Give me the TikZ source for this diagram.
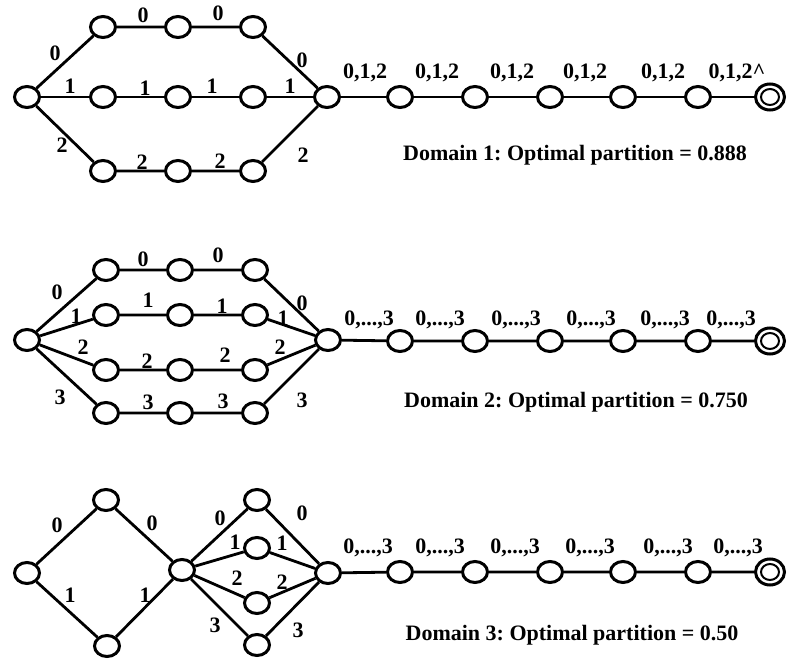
\documentclass[tikz,border=0pt]{standalone}
\usepackage{fontspec}
\setmainfont{Liberation Serif}
\usetikzlibrary{shapes.geometric}
\tikzset{
  st/.style={ellipse,draw,line width=3pt,minimum width=25pt,minimum height=21pt,inner sep=0pt},
  fin/.style={st,minimum width=29pt,minimum height=26pt},
  ed/.style={line width=2.8pt},
  lb/.style={font=\fontsize{22}{24}\selectfont\bfseries,inner sep=0pt},
  captxt/.style={font=\fontsize{22}{26}\selectfont\bfseries\frenchspacing,inner sep=0pt}
}
\begin{document}
\begin{tikzpicture}[x=1pt,y=-1pt]
\useasboundingbox (0,0) rectangle (788,660);

% ---------------- Domain 1 ----------------
\node[st] (aS) at (27,97) {};
\foreach \x [count=\i] in {103,178,253}{
  \node[st] (aT\i) at (\x,27) {};
  \node[st] (aM\i) at (\x,97) {};
  \node[st] (aB\i) at (\x,171) {};
}
\node[st] (aJ) at (327,97) {};
\foreach \x [count=\i] in {400,475,550,623,698}
  \node[st] (aC\i) at (\x,97) {};
\node[fin] (aF) at (770,97) {};
\draw[line width=2pt] (aF.center) ellipse (9 and 8);

\draw[ed] (aS) -- (aT1) -- (aT2) -- (aT3) -- (aJ);
\draw[ed] (aS) -- (aM1) -- (aM2) -- (aM3) -- (aJ);
\draw[ed] (aS) -- (aB1) -- (aB2) -- (aB3) -- (aJ);
\draw[ed] (aJ) -- (aC1) -- (aC2) -- (aC3) -- (aC4) -- (aC5) -- (aF);

\node[lb] (la1) at (55,53) {0};
\node[lb] (la2) at (143,15) {0};
\node[lb] (la3) at (218,13) {0};
\node[lb] (la4) at (302,60) {0};
\node[lb] (la5) at (70,86) {1};
\node[lb] (la6) at (145,88) {1};
\node[lb] (la7) at (212,86) {1};
\node[lb] (la8) at (290,86) {1};
\node[lb] (la9) at (62,145) {2};
\node[lb] (la10) at (142,162) {2};
\node[lb] (la11) at (220,161) {2};
\node[lb] (la12) at (303,155) {2};
\foreach \x [count=\i] in {365,437,512,585,663}
  \node[lb] (lac\i) at (\x,73) {0,1,2};
\node[lb] (lac6) at (737,73) {0,1,2\textasciicircum};
\node[captxt] (capA) at (575,155) {Domain 1: Optimal partition = 0.888};

% ---------------- Domain 2 ----------------
\node[st] (bS) at (27,340) {};
\foreach \x [count=\i] in {106,180,255}{
  \node[st] (bR\i) at (\x,270) {};
  \node[st] (bQ\i) at (\x,315) {};
  \node[st] (bP\i) at (\x,370) {};
  \node[st] (bO\i) at (\x,413) {};
}
\node[st] (bJ) at (328,340) {};
\foreach \x [count=\i] in {400,475,550,623,698}
  \node[st] (bC\i) at (\x,341) {};
\node[fin] (bF) at (770,341) {};
\draw[line width=2pt] (bF.center) ellipse (9 and 8);

\draw[ed] (bS) -- (bR1) -- (bR2) -- (bR3) -- (bJ);
\draw[ed] (bS) -- (bQ1) -- (bQ2) -- (bQ3) -- (bJ);
\draw[ed] (bS) -- (bP1) -- (bP2) -- (bP3) -- (bJ);
\draw[ed] (bS) -- (bO1) -- (bO2) -- (bO3) -- (bJ);
\draw[ed] (bJ) -- (bC1) -- (bC2) -- (bC3) -- (bC4) -- (bC5) -- (bF);

\node[lb] (lb1) at (57,292) {0};
\node[lb] (lb2) at (143,259) {0};
\node[lb] (lb3) at (218,255) {0};
\node[lb] (lb4) at (302,303) {0};
\node[lb] (lb5) at (76,316) {1};
\node[lb] (lb6) at (148,300) {1};
\node[lb] (lb7) at (222,306) {1};
\node[lb] (lb8) at (283,318) {1};
\node[lb] (lb9) at (83,347) {2};
\node[lb] (lb10) at (147,361) {2};
\node[lb] (lb11) at (225,355) {2};
\node[lb] (lb12) at (280,347) {2};
\node[lb] (lb13) at (60,397) {3};
\node[lb] (lb14) at (148,402) {3};
\node[lb] (lb15) at (223,401) {3};
\node[lb] (lb16) at (302,400) {3};
\foreach \x [count=\i] in {369,440,516,591,665,731}
  \node[lb] (lbc\i) at (\x,320) {0,...,3};
\node[captxt] (capB) at (576,402) {Domain 2: Optimal partition = 0.750};

% ---------------- Domain 3 ----------------
\node[st] (cS) at (27,573) {};
\node[st] (cT) at (106,500) {};
\node[st] (cB) at (107,646) {};
\node[st] (cK) at (182,570) {};
\node[st] (cR0) at (257,500) {};
\node[st] (cR1) at (257,548) {};
\node[st] (cR2) at (257,603) {};
\node[st] (cR3) at (257,645) {};
\node[st] (cJ) at (328,573) {};
\foreach \x [count=\i] in {400,475,550,623,698}
  \node[st] (cC\i) at (\x,572) {};
\node[fin] (cF) at (770,572) {};
\draw[line width=2pt] (cF.center) ellipse (9 and 8);

\draw[ed] (cS) -- (cT) -- (cK);
\draw[ed] (cS) -- (cB) -- (cK);
\draw[ed] (cK) -- (cR0) -- (cJ);
\draw[ed] (cK) -- (cR1) -- (cJ);
\draw[ed] (cK) -- (cR2) -- (cJ);
\draw[ed] (cK) -- (cR3) -- (cJ);
\draw[ed] (cJ) -- (cC1) -- (cC2) -- (cC3) -- (cC4) -- (cC5) -- (cF);

\node[lb] (lc1) at (57,525) {0};
\node[lb] (lc2) at (152,523) {0};
\node[lb] (lc3) at (70,595) {1};
\node[lb] (lc4) at (145,595) {1};
\node[lb] (lc5) at (220,518) {0};
\node[lb] (lc6) at (302,513) {0};
\node[lb] (lc7) at (235,542) {1};
\node[lb] (lc8) at (282,543) {1};
\node[lb] (lc9) at (237,578) {2};
\node[lb] (lc10) at (282,582) {2};
\node[lb] (lc11) at (215,625) {3};
\node[lb] (lc12) at (298,630) {3};
\foreach \x [count=\i] in {368,440,515,590,668,738}
  \node[lb] (lcc\i) at (\x,548) {0,...,3};
\node[captxt] (capC) at (572,635) {Domain 3: Optimal partition = 0.50};
\end{tikzpicture}
\end{document}
